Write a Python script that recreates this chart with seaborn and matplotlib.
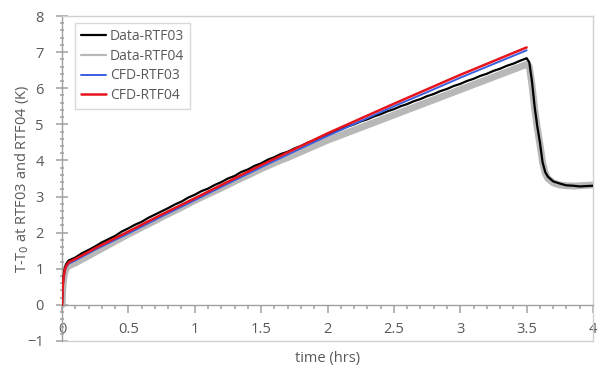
import matplotlib
matplotlib.use("Agg")
import matplotlib.pyplot as plt
from matplotlib.ticker import MultipleLocator
import seaborn as sns

# ---- data ----
t_ramp = [0.05, 0.10, 0.15, 0.20, 0.25, 0.30, 0.35, 0.40, 0.45, 0.50,
          0.55, 0.60, 0.65, 0.70, 0.75, 0.80, 0.85, 0.90, 0.95, 1.00,
          1.05, 1.10, 1.15, 1.20, 1.25, 1.30, 1.35, 1.40, 1.45, 1.50,
          1.55, 1.60, 1.65, 1.70, 1.75, 1.80, 1.85, 1.90, 1.95, 2.00,
          2.05, 2.10, 2.15, 2.20, 2.25, 2.30, 2.35, 2.40, 2.45, 2.50,
          2.55, 2.60, 2.65, 2.70, 2.75, 2.80, 2.85, 2.90, 2.95, 3.00,
          3.05, 3.10, 3.15, 3.20, 3.25, 3.30, 3.35, 3.40, 3.45, 3.50]
t_start = [0.0, 0.005, 0.01, 0.02, 0.03, 0.04]
t_decay = [3.52, 3.54, 3.56, 3.58, 3.60, 3.62, 3.64, 3.66, 3.70, 3.75,
           3.80, 3.85, 3.90, 3.95, 4.00]

data_rtf03_start = [0.0, 0.5, 0.75, 1.0, 1.12, 1.18]
data_rtf03_ramp = [1.23, 1.31, 1.43, 1.52, 1.62, 1.73, 1.82, 1.91, 2.03, 2.12,
                   2.22, 2.30, 2.41, 2.50, 2.59, 2.68, 2.78, 2.86, 2.97, 3.05,
                   3.15, 3.22, 3.32, 3.40, 3.50, 3.57, 3.68, 3.75, 3.85, 3.92,
                   4.02, 4.09, 4.18, 4.24, 4.33, 4.40, 4.49, 4.56, 4.65, 4.72,
                   4.80, 4.86, 4.94, 5.00, 5.08, 5.14, 5.22, 5.28, 5.36, 5.42,
                   5.50, 5.56, 5.64, 5.70, 5.78, 5.84, 5.92, 5.98, 6.06, 6.12,
                   6.20, 6.26, 6.34, 6.40, 6.48, 6.54, 6.62, 6.68, 6.76, 6.83]
data_rtf03_decay = [6.72, 6.20, 5.50, 4.95, 4.50, 3.95, 3.68, 3.55, 3.42, 3.36,
                    3.31, 3.30, 3.28, 3.29, 3.30]

data_rtf04_start = [0.0, 0.4, 0.65, 0.88, 1.0, 1.05]
data_rtf04_ramp = [1.08, 1.16, 1.26, 1.36, 1.46, 1.56, 1.66, 1.76, 1.86, 1.96,
                   2.05, 2.15, 2.24, 2.33, 2.43, 2.52, 2.61, 2.70, 2.80, 2.89,
                   2.98, 3.07, 3.15, 3.24, 3.33, 3.42, 3.51, 3.59, 3.68, 3.77,
                   3.85, 3.93, 4.01, 4.08, 4.16, 4.24, 4.32, 4.40, 4.48, 4.56,
                   4.63, 4.70, 4.77, 4.84, 4.91, 4.98, 5.05, 5.12, 5.19, 5.26,
                   5.33, 5.40, 5.47, 5.54, 5.61, 5.68, 5.75, 5.82, 5.89, 5.96,
                   6.03, 6.10, 6.17, 6.24, 6.31, 6.38, 6.45, 6.52, 6.59, 6.66]
data_rtf04_decay = [6.60, 6.10, 5.45, 4.90, 4.45, 3.95, 3.65, 3.50, 3.38, 3.32,
                    3.30, 3.29, 3.30, 3.31, 3.32]

t_cfd = [0.0, 0.005, 0.01, 0.02, 0.03, 0.05, 0.1, 0.25, 0.5, 0.75, 1.0,
         1.25, 1.5, 1.75, 2.0, 2.25, 2.5, 2.75, 3.0, 3.25, 3.5]
cfd_rtf03 = [0.0, 0.43, 0.68, 0.92, 1.04, 1.14, 1.23, 1.53, 1.98, 2.45, 2.90,
             3.36, 3.81, 4.25, 4.68, 5.09, 5.50, 5.89, 6.29, 6.67, 7.05]
cfd_rtf04 = [0.0, 0.45, 0.70, 0.95, 1.07, 1.18, 1.27, 1.57, 2.03, 2.50, 2.95,
             3.41, 3.87, 4.31, 4.75, 5.16, 5.57, 5.97, 6.37, 6.75, 7.13]

labels = ["Data-RTF03", "Data-RTF04", "CFD-RTF03", "CFD-RTF04"]
x_ticks = [0, 0.5, 1, 1.5, 2, 2.5, 3, 3.5, 4]
x_tick_labels = ["0", "0.5", "1", "1.5", "2", "2.5", "3", "3.5", "4"]
y_ticks = [-1, 0, 1, 2, 3, 4, 5, 6, 7, 8]

# ---- style ----
sns.set_theme(style="white")
text_col = "#595959"
axis_col = "#a0a0a0"
frame_col = "#d0d0d0"
plt.rcParams["font.family"] = ["Open Sans", "DejaVu Sans"]

fig = plt.figure(figsize=(6.02, 3.69), dpi=100)
ax = fig.add_axes([62 / 602, 1 - 341 / 369, (593 - 62) / 602, (341 - 16) / 369])

t03 = t_start + t_ramp + t_decay
y03 = data_rtf03_start + data_rtf03_ramp + data_rtf03_decay
y04 = data_rtf04_start + data_rtf04_ramp + data_rtf04_decay

sns.lineplot(x=t03, y=y04, ax=ax, color="#b8b8b8", lw=5.0, sort=False,
             estimator=None, zorder=2)
sns.lineplot(x=t03, y=y03, ax=ax, color="#000000", lw=1.6, sort=False,
             estimator=None, zorder=3)
sns.lineplot(x=t_cfd, y=cfd_rtf03, ax=ax, color="#3a5fe0", lw=1.4, sort=False,
             estimator=None, zorder=4)
sns.lineplot(x=t_cfd, y=cfd_rtf04, ax=ax, color="#e8141c", lw=1.8, sort=False,
             estimator=None, zorder=5)
lines = ax.get_lines()
handles = [lines[1], lines[0], lines[2], lines[3]]

ax.set_xlim(0, 4)
ax.set_ylim(-1, 8)

# spines: frame box + x axis crossing at y=0
for s in ["top", "right", "left"]:
    ax.spines[s].set_visible(True)
    ax.spines[s].set_color(axis_col if s == "left" else frame_col)
    ax.spines[s].set_linewidth(1.0)
ax.spines["bottom"].set_position(("data", 0))
ax.spines["bottom"].set_color(axis_col)
ax.spines["bottom"].set_linewidth(1.0)
ax.axhline(-1, color=frame_col, lw=1.0, clip_on=False, zorder=1)

ax.set_xticks(x_ticks)
ax.set_xticklabels(x_tick_labels)
ax.set_yticks(y_ticks)
ax.xaxis.set_minor_locator(MultipleLocator(0.1))
ax.yaxis.set_minor_locator(MultipleLocator(0.2))
ax.tick_params(axis="x", which="major", bottom=True, top=False,
               direction="out", length=6, width=1.1, color=axis_col,
               pad=6.5, labelsize=10.5, labelcolor=text_col)
ax.tick_params(axis="x", which="minor", bottom=True, top=False,
               direction="out", length=3, width=1.1, color=axis_col)
ax.tick_params(axis="y", which="major", left=True, right=False,
               direction="inout", length=8, width=1.1, color=axis_col,
               pad=9, labelsize=10.5, labelcolor=text_col)
ax.tick_params(axis="y", which="minor", left=True, right=False,
               direction="inout", length=3, width=1.1, color=axis_col)

ax.set_xlabel("time (hrs)", color=text_col, fontsize=10.5)
ax.xaxis.set_label_coords(0.5, -0.03)
ax.set_ylabel("T-T$_0$ at RTF03 and RTF04 (K)", color=text_col, fontsize=10.5)
ax.yaxis.set_label_coords(-0.058, 0.5)

leg = ax.legend(handles, labels, loc="upper left",
                bbox_to_anchor=(0.0245, 0.978), borderaxespad=0,
                fontsize=10, frameon=True, fancybox=False, edgecolor=frame_col,
                handlelength=1.8, handletextpad=0.3, labelspacing=0.35,
                borderpad=0.4)
for txt in leg.get_texts():
    txt.set_color(text_col)
leg.get_lines()[1].set_linewidth(1.6)
leg.get_frame().set_linewidth(1.0)

fig.savefig("out.png", dpi=100)
